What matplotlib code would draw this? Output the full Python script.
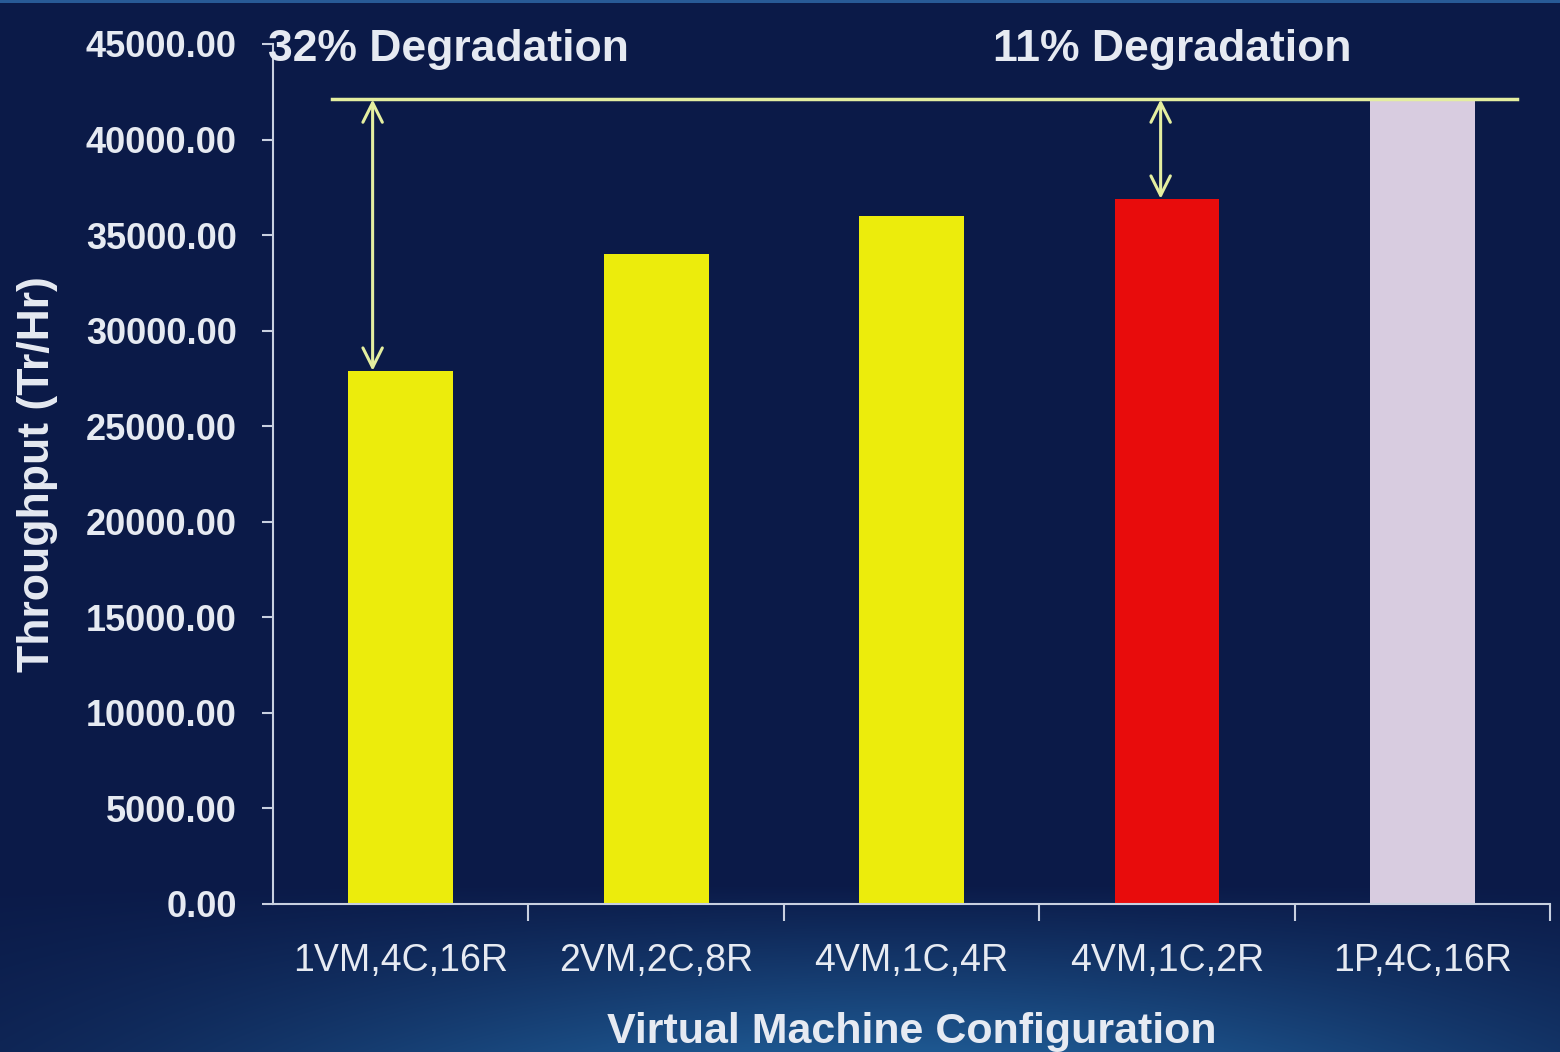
import numpy as np
import matplotlib
matplotlib.use("Agg")
import matplotlib.pyplot as plt

# data
configs = ['1VM,4C,16R', '2VM,2C,8R', '4VM,1C,4R', '4VM,1C,2R', '1P,4C,16R']
throughput = [27900, 34000, 36000, 36900, 42100]
bar_colors = ['#ecec0c', '#ecec0c', '#ecec0c', '#e80c0c', '#d8cce0']
yticks = np.arange(0, 45001, 5000)
baseline = 42100
notes = ['32% Degradation', '11% Degradation']

txt = '#e6eaf2'
line_col = '#e4eea0'

fig = plt.figure(figsize=(15.6, 10.52), dpi=100)

# background: navy with lighter glow at the bottom
bg = fig.add_axes([0, 0, 1, 1])
h, w = 1052, 1560
yy, xx = np.mgrid[0:h, 0:w]
yn = yy / h
xn = xx / w
base = np.array([11, 26, 72]) / 255
glow = np.array([30, 88, 145]) / 255
t = np.clip((yn - 0.84) / 0.16, 0, 1) ** 1.0
hz = np.exp(-((xn - 0.58) / 0.45) ** 2)
mix = (t * hz)[..., None]
img = base + mix * (glow - base)
img[:3, :, :] = np.array([40, 90, 150]) / 255
bg.imshow(img, aspect='auto', extent=[0, 1, 0, 1])
bg.axis('off')

ax = fig.add_axes([0.175, 0.1407, 0.8187, 0.8175])
ax.set_facecolor('none')

x = np.arange(len(configs))
ax.bar(x, throughput, width=0.41, color=bar_colors, zorder=2)

ax.set_xlim(-0.5, len(configs) - 0.5)
ax.set_ylim(0, 45000)
ax.set_yticks(yticks)
ax.set_yticklabels(['%.2f' % v for v in yticks], fontsize=26, fontweight='bold',
                   color=txt, family=['Liberation Sans', 'DejaVu Sans'])
ax.set_xticks(x)
ax.set_xticklabels(configs, fontsize=27, color=txt,
                   family=['Liberation Sans Narrow', 'Liberation Sans'])
ax.set_xticks(np.arange(0.5, len(configs), 1), minor=True)
ax.tick_params(axis='x', which='major', length=0, pad=28)
ax.tick_params(axis='x', which='minor', length=12, width=1.5, color='#c8d0e0', direction='out')
ax.tick_params(axis='y', length=8, width=1.5, color='#c8d0e0', pad=18)

for s in ['top', 'right']:
    ax.spines[s].set_visible(False)
for s in ['left', 'bottom']:
    ax.spines[s].set_color('#c8d0e0')
    ax.spines[s].set_linewidth(1.5)

ax.set_ylabel('Throughput (Tr/Hr)', fontsize=32, fontweight='bold', color=txt,
              family=['Liberation Sans', 'DejaVu Sans'], labelpad=20)
ax.set_xlabel('Virtual Machine Configuration', fontsize=31, fontweight='bold', color=txt,
              family=['Liberation Sans Narrow', 'Liberation Sans'], labelpad=24)

# reference line and degradation arrows
ax.plot([-0.27, 4.37], [baseline, baseline], color=line_col, lw=2.5, zorder=3, clip_on=False)
ax.annotate('', xy=(-0.11, throughput[0]), xytext=(-0.11, baseline),
            arrowprops=dict(arrowstyle='<->', color=line_col, lw=2.2,
                            mutation_scale=35, shrinkA=0, shrinkB=0), zorder=4)
ax.annotate('', xy=(2.975, throughput[3]), xytext=(2.975, baseline),
            arrowprops=dict(arrowstyle='<->', color=line_col, lw=2.2,
                            mutation_scale=35, shrinkA=0, shrinkB=0), zorder=4)

ax.text(-0.52, 44700, notes[0], fontsize=32, fontweight='bold', color=txt,
        va='center', ha='left', family=['Liberation Sans', 'DejaVu Sans'], clip_on=False)
ax.text(2.318, 44700, notes[1], fontsize=32, fontweight='bold', color=txt,
        va='center', ha='left', family=['Liberation Sans', 'DejaVu Sans'], clip_on=False)

fig.savefig('out.png', dpi=100)
